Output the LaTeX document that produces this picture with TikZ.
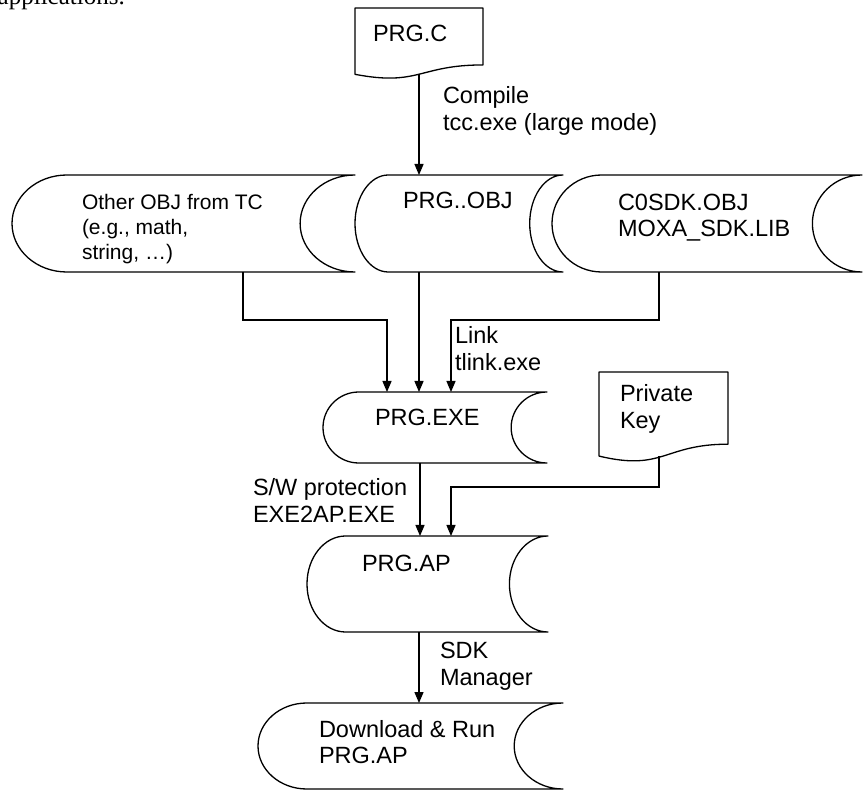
\documentclass[tikz,border=0pt]{standalone}
\usepackage{fontspec}
\setmainfont{Liberation Sans}
\newfontfamily\serifx{Liberation Serif}
\usetikzlibrary{arrows.meta}
\tikzset{
  anchorbox/.style={draw=none, inner sep=0pt, outer sep=0pt, rectangle},
  shapeline/.style={draw=black, line width=1.3pt, line join=round},
  arr/.style={draw=black, line width=1.3pt, -{Triangle[length=11pt,width=9pt]}},
  lbl/.style={anchor=base west, inner sep=0pt, outer sep=0pt, align=left, font=\fontsize{23.5}{27}\selectfont},
  intext/.style={lbl, font=\fontsize{23.5}{26}\selectfont},
  smalltext/.style={lbl, font=\fontsize{21}{25}\selectfont}
}
% stored-data shape: name, x0, y0, x1, y1
\newcommand\mystored[5]{%
  \pgfmathsetmacro\sdd{0.16*(#4-#2)}%
  \pgfmathsetmacro\sdh{(#5-#3)/2}%
  \node[anchorbox, minimum width={(#4-#2)*1pt}, minimum height={(#5-#3)*1pt}] (#1) at ({(#2+#4)/2},{(#3+#5)/2}) {};
  \draw[shapeline] (#2+\sdd,#3) -- (#4,#3)
     arc[start angle=90, end angle=270, x radius={\sdd*1pt}, y radius={\sdh*1pt}]
     -- (#2+\sdd,#5)
     arc[start angle=270, end angle=90, x radius={\sdd*1pt}, y radius={\sdh*1pt}]
     -- cycle;
}
% document shape: name, x0, y0, w, h
\newcommand\mydoc[5]{%
  \node[anchorbox, minimum width={#4*1pt}, minimum height={0.933*#5*1pt}, anchor=north west] (#1) at (#2,#3) {};
  \draw[shapeline] (#2,#3) -- (#2+#4,#3) -- (#2+#4,#3+0.802*#5)
     .. controls (#2+0.5*#4,#3+0.802*#5) and (#2+0.5*#4,#3+1.107*#5) .. (#2,#3+0.934*#5) -- cycle;
}
\begin{document}
\begin{tikzpicture}[x=1pt, y=-1pt]
\useasboundingbox (0,0) rectangle (863,791);
\begin{scope}
  \clip (0,0) rectangle (863,791);
  \node[anchor=base east, inner sep=0pt, font=\serifx\fontsize{25}{28}\selectfont] (apptext) at (125,5) {applications.};
\end{scope}

% shapes
\mydoc{prgc}{355}{8}{128}{71}
\mystored{obj1}{12}{175}{355}{272}
\mystored{obj2}{355}{175}{563}{272}
\mystored{obj3}{552}{175}{862}{272}
\mystored{exe}{323}{392}{547}{463}
\mydoc{pk}{599}{372}{129}{90}
\mystored{ap}{307}{536}{548}{632}
\mystored{dl}{258}{703}{563}{789}

% texts (base anchor = baseline of last line)
\node[lbl] (tprgc) at (373,41.5) {PRG.C};
\node[lbl] (lcompile) at (443,131) {Compile\\tcc.exe (large mode)};
\node[smalltext] (tobj1) at (82,259.5) {Other OBJ from TC\\(e.g., math,\\string, …)};
\node[lbl] (tobj2) at (403,208.5) {PRG..OBJ};
\node[intext] (tobj3) at (618,236.5) {C0SDK.OBJ\\MOXA\_SDK.LIB};
\node[lbl] (llink) at (455,370.5) {Link\\tlink.exe};
\node[lbl] (texe) at (375,425.5) {PRG.EXE};
\node[lbl] (tpk) at (620,428.5) {Private\\Key};
\node[lbl] (lsw) at (253,522.5) {S/W protection\\EXE2AP.EXE};
\node[lbl] (tap) at (362,571.5) {PRG.AP};
\node[lbl] (lsdk) at (440,685.5) {SDK\\Manager};
\node[intext] (tdl) at (319,763.5) {Download \& Run\\PRG.AP};

% connectors
\draw[arr] (prgc.south) -- (prgc.south |- obj2.north);
\draw[arr] ([xshift=59.5pt]obj1.south) -- ++(0,48) -| ([xshift=-48pt]exe.north);
\draw[arr] ([xshift=-40pt]obj2.south) -- ([xshift=-16pt]exe.north);
\draw[arr] ([xshift=-48pt]obj3.south) -- ++(0,48) -| ([xshift=16pt]exe.north);
\draw[arr] ([xshift=-15pt]exe.south) -- ([xshift=-7.5pt]ap.north);
\draw[arr] ([xshift=-4.5pt]pk.south) -- ++(0,31) -| ([xshift=23.5pt]ap.north);
\draw[arr] ([xshift=-8.5pt]ap.south) -- ([xshift=8.5pt]dl.north);
\end{tikzpicture}
\end{document}
